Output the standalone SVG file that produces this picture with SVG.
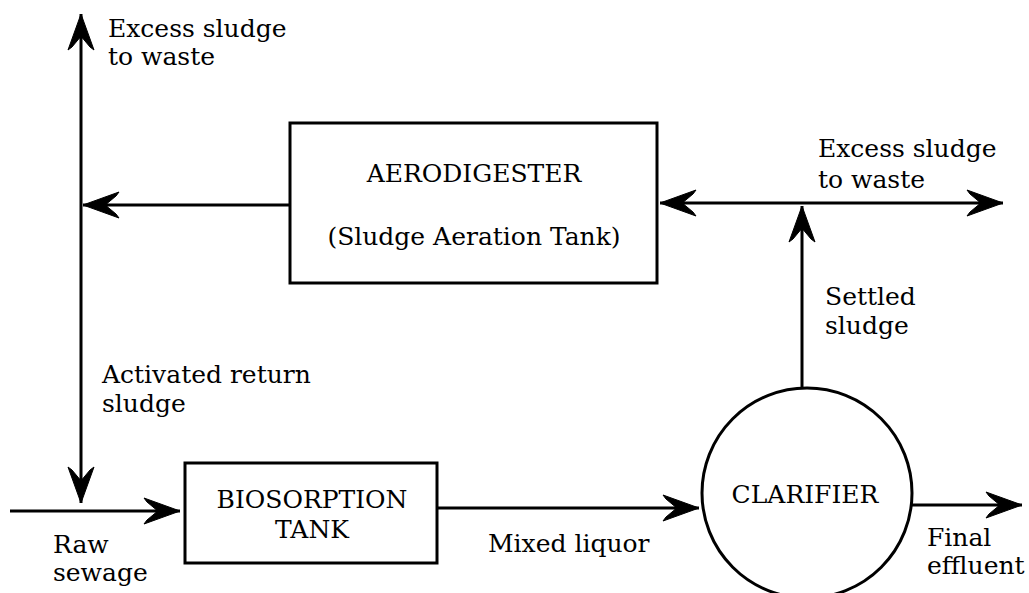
<svg xmlns="http://www.w3.org/2000/svg" width="1029" height="593" viewBox="0 0 1029 593">
<defs>
<style>
.t{font-family:"DejaVu Serif","Liberation Serif",serif;font-size:25px;fill:#000}
.c{text-anchor:middle}
.ln{stroke:#000;stroke-width:3;fill:none}
.sh{stroke:#000;stroke-width:3;fill:#fff}
</style>
<marker id="ah" markerUnits="userSpaceOnUse" markerWidth="40" markerHeight="30" viewBox="-38 -15 40 30" refX="0" refY="0" orient="auto">
<path d="M0,0 L-36,-13 L-33,-9 L-24,-1.5 L-24,1.5 L-33,9 L-36,13 Z" fill="#000" stroke="#000" stroke-width="1" stroke-linejoin="miter"/>
</marker>
</defs>
<rect width="1029" height="593" fill="#fff"/>
<g id="connectors">
<line class="ln" x1="81" y1="205" x2="81" y2="14" marker-end="url(#ah)"/>
<line class="ln" x1="81" y1="205" x2="81" y2="503" marker-end="url(#ah)"/>
<line class="ln" x1="290" y1="205" x2="83" y2="205" marker-end="url(#ah)"/>
<line class="ln" x1="10" y1="511" x2="180" y2="511" marker-end="url(#ah)"/>
<line class="ln" x1="437" y1="508" x2="699" y2="508" marker-end="url(#ah)"/>
<line class="ln" x1="912" y1="505" x2="1022" y2="505" marker-end="url(#ah)"/>
<line class="ln" x1="802" y1="388" x2="802" y2="206" marker-end="url(#ah)"/>
<line class="ln" x1="802" y1="203" x2="660" y2="203" marker-end="url(#ah)"/>
<line class="ln" x1="802" y1="203" x2="1003" y2="203" marker-end="url(#ah)"/>
</g>
<g id="aerodigester">
<rect class="sh" x="290" y="123" width="367" height="160"/>
<text class="t c" x="474" y="182">AERODIGESTER</text>
<text class="t c" x="474" y="245">(Sludge Aeration Tank)</text>
</g>
<g id="biosorption">
<rect class="sh" x="185" y="463" width="252" height="100"/>
<text class="t c" x="312" y="508">BIOSORPTION</text>
<text class="t c" x="312" y="538">TANK</text>
</g>
<g id="clarifier">
<circle class="sh" cx="807" cy="493" r="105"/>
<text class="t c" x="805" y="503">CLARIFIER</text>
</g>
<g id="labels">
<text class="t" x="108" y="37">Excess sludge</text>
<text class="t" x="108" y="65">to waste</text>
<text class="t" x="818" y="157">Excess sludge</text>
<text class="t" x="818" y="188">to waste</text>
<text class="t" x="825" y="305">Settled</text>
<text class="t" x="825" y="334">sludge</text>
<text class="t" x="102" y="383">Activated return</text>
<text class="t" x="102" y="412">sludge</text>
<text class="t" x="53" y="553">Raw</text>
<text class="t" x="53" y="581">sewage</text>
<text class="t" x="927" y="546">Final</text>
<text class="t" x="927" y="574">effluent</text>
<text class="t" x="488" y="552">Mixed liquor</text>
</g>
</svg>
